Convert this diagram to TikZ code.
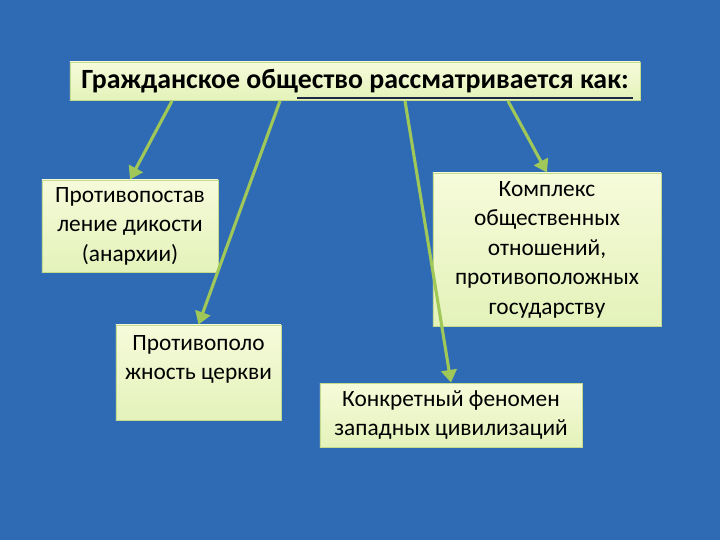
\documentclass[tikz,border=0pt]{standalone}
\usepackage{fontspec}
\setmainfont{Carlito}
\usepackage{tikz}
\usetikzlibrary{arrows.meta}
\definecolor{bgblue}{RGB}{47,107,181}
\definecolor{boxtop}{RGB}{246,251,218}
\definecolor{boxbot}{RGB}{228,242,186}
\definecolor{boxline}{RGB}{196,218,140}
\definecolor{arrgreen}{RGB}{160,200,88}
\definecolor{ulnavy}{RGB}{30,40,70}

\tikzset{
  box/.style={draw=boxline, line width=0.6pt, top color=boxtop, bottom color=boxbot,
    align=center, inner sep=2pt, font=\fontsize{16.6}{21}\selectfont},
  link/.style={arrgreen, line width=2.2pt, -{Triangle[length=9pt,width=11pt]}}
}

\begin{document}
\begin{tikzpicture}[x=0.025cm,y=-0.025cm]

\fill[bgblue] (0,0) rectangle (720,540);
\useasboundingbox (0,0) rectangle (720,540);

\node[box, minimum width=14.25cm, minimum height=0.95cm,
  font=\bfseries\fontsize{19.8}{22}\selectfont] (title) at (355,81)
  {Гражданское общество рассматривается как:};
\draw[ulnavy, line width=0.8pt] (297,98) -- (633,98);

\node[box, minimum width=4.4cm, minimum height=2.3cm] (anarchy) at (130,226)
  {Противопостав\\ление дикости\\(анархии)};
\node[box, minimum width=4.125cm, minimum height=2.375cm] (church) at (198.5,372.5)
  {Противополо\\жность церкви\\\mbox{}};
\node[box, minimum width=5.7cm, minimum height=3.825cm] (complex) at (547,249.5)
  {Комплекс\\общественных\\отношений,\\противоположных\\государству};
\node[box, minimum width=6.55cm, minimum height=1.6cm] (west) at (451,415)
  {Конкретный феномен\\западных цивилизаций};

% arrows from the title
\coordinate (t1) at (172,101);
\coordinate (t2) at (280,101);
\coordinate (t3) at (405,101);
\coordinate (t4) at (508,101);

\draw[link] (t1) -- (anarchy.north);
\draw[link] (t2) -- (church.north);
\draw[link] (t3) -- (west.north);
\draw[link] (t4) -- (complex.north);
\end{tikzpicture}
\end{document}
